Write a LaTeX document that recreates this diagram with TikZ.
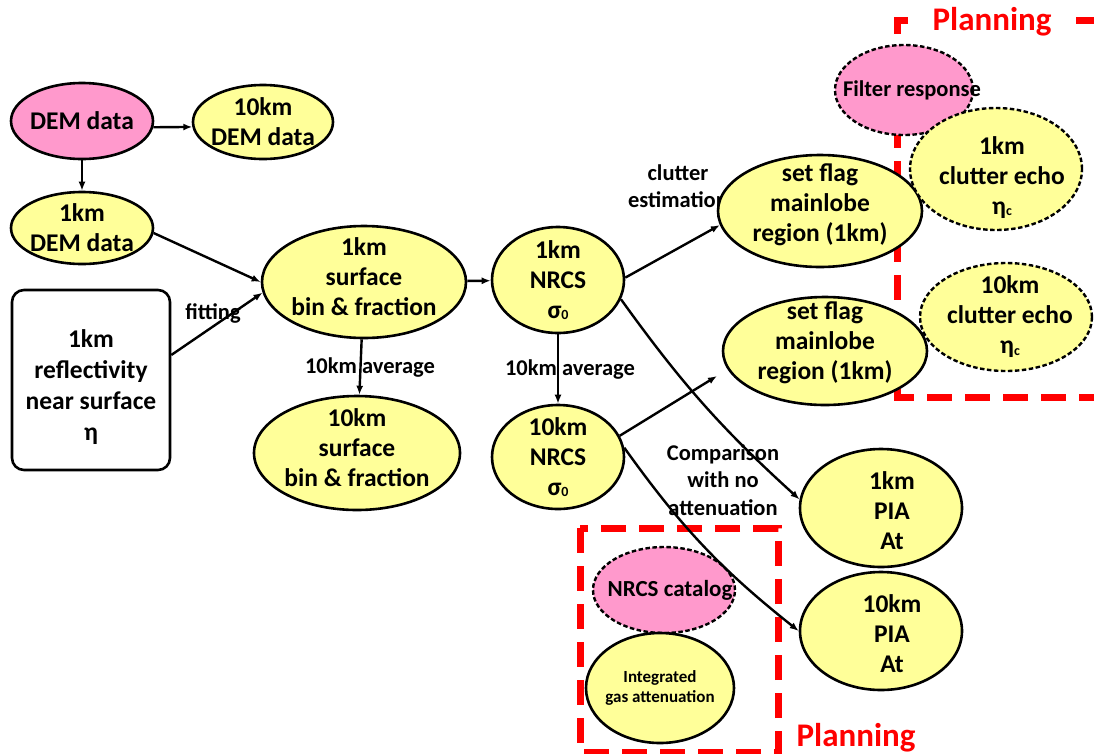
\documentclass[tikz,border=0pt]{standalone}
\usepackage{fontspec}
\setmainfont{Carlito}
\usetikzlibrary{shapes.geometric,arrows.meta}

\definecolor{nodeyellow}{HTML}{FFFF99}
\definecolor{nodepink}{HTML}{FF99CC}
\definecolor{planred}{HTML}{FF0000}

% small index placed low beside a Greek letter
\newcommand\lowidx[1]{\raisebox{-1.5pt}{\fontsize{14}{14}\selectfont #1}}
% invisible struts that move a text block up (extra depth) or down (extra height)
\newcommand\liftby[1]{\rule[-#1]{0pt}{#1}}
\newcommand\dropby[1]{\rule{0pt}{#1}}

\begin{document}
\begin{tikzpicture}[x=1pt,y=-1pt,
  font=\bfseries\fontsize{25.5}{30}\selectfont,
  oval/.style={ellipse, draw, line width=2.6pt, inner sep=-45pt, align=center},
  yellowoval/.style={oval, fill=nodeyellow},
  pinkoval/.style={oval, fill=nodepink},
  plannedoval/.style={dash pattern=on 4.5pt off 2.5pt, line width=2.4pt},
  infobox/.style={draw, rounded corners=12pt, line width=2.6pt, fill=white, align=center, inner sep=0pt},
  steplabel/.style={font=\bfseries\fontsize{22.5}{27.5}\selectfont, align=center, inner sep=0pt},
  planbox/.style={draw=planred, line width=7pt, dash pattern=on 25pt off 13pt},
  plantitle/.style={text=planred, font=\bfseries\fontsize{33}{36}\selectfont, inner sep=0pt},
  arr/.style={-{Latex[length=9pt,width=7pt]}, line width=2.4pt}
]
\useasboundingbox (0,0) rectangle (1094,753);

% planning regions
\draw[planbox] (908,20) -- (897,20) -- (897,397) -- (1100,397);
\draw[planbox] (1076,20) -- (1100,20);
\node[plantitle] (plantop) at (992,22) {Planning};
\draw[planbox] (580,528) rectangle (778,752);
\node[plantitle] (planbottom) at (856,738) {Planning};

% connector labels
\node[steplabel] (lbfit) at (213,313) {fitting};
\node[steplabel] (lbavg1) at (370,368) {10km average};
\node[steplabel] (lbavg2) at (570,370) {10km average};
\node[steplabel] (lbclutter) at (678,186) {clutter\\estimation};
\node[steplabel] (lbcomp) at (723,480) {Comparison\\with no\\attenuation};

% DEM inputs
\node[pinkoval, minimum width=142pt, minimum height=76pt] (dem) at (82,121) {DEM data};
\node[yellowoval, minimum width=140pt, minimum height=74pt] (dem10) at (263,122) {10km\\DEM data};
\node[yellowoval, minimum width=142pt, minimum height=72pt] (dem1) at (82,228) {1km\\DEM data};
\node[infobox, minimum width=158pt, minimum height=180pt, font=\bfseries\fontsize{25.5}{31}\selectfont] (refl) at (91,380)
  {\dropby{31pt}1km\\reflectivity\\near surface\\η};

% surface bins
\node[yellowoval, minimum width=204pt, minimum height=112pt] (surf1) at (364,282)
  {1km\\surface\\bin \& fraction\liftby{10pt}};
\node[yellowoval, minimum width=206pt, minimum height=114pt] (surf10) at (357,453)
  {10km\\surface\\bin \& fraction\liftby{10pt}};

% NRCS
\node[yellowoval, minimum width=132pt, minimum height=106pt] (nrcs1) at (558,280)
  {1km\\NRCS\\σ\lowidx{0}};
\node[yellowoval, minimum width=132pt, minimum height=104pt] (nrcs10) at (558,457)
  {10km\\NRCS\\σ\lowidx{0}};

% mainlobe flags
\node[yellowoval, minimum width=204pt, minimum height=112pt] (flag1) at (820,211)
  {set flag\\mainlobe\\region (1km)\liftby{16pt}};
\node[yellowoval, minimum width=204pt, minimum height=108pt] (flag2) at (825,351)
  {set flag\\mainlobe\\region (1km)\liftby{20pt}};

% clutter echo (planned)
\node[pinkoval, plannedoval, minimum width=138pt, minimum height=90pt,
  font=\bfseries\fontsize{22.5}{27}\selectfont] (filter) at (904,90)
  {\hspace*{16pt}Filter response};
\node[yellowoval, plannedoval, minimum width=172pt, minimum height=122pt] (clut1) at (996,169)
  {\hspace*{12pt}\dropby{34pt}1km\\\hspace*{12pt}clutter echo\\\hspace*{12pt}η\lowidx{c}};
\node[yellowoval, plannedoval, minimum width=172pt, minimum height=108pt] (clut10) at (1006,317)
  {\hspace*{8pt}10km\\\hspace*{8pt}clutter echo\\\hspace*{8pt}η\lowidx{c}};

% path integrated attenuation
\node[yellowoval, minimum width=162pt, minimum height=118pt] (pia1) at (881,508)
  {\hspace*{22pt}\dropby{24pt}1km\\\hspace*{22pt}PIA\\\hspace*{22pt}At};
\node[yellowoval, minimum width=162pt, minimum height=118pt] (pia10) at (881,631)
  {\hspace*{22pt}\dropby{24pt}10km\\\hspace*{22pt}PIA\\\hspace*{22pt}At};

% planned catalog and gas attenuation
\node[pinkoval, plannedoval, minimum width=142pt, minimum height=86pt,
  font=\bfseries\fontsize{23}{27}\selectfont] (catalog) at (664,590)
  {\hspace*{12pt}NRCS catalog};
\node[yellowoval, minimum width=148pt, minimum height=110pt,
  font=\bfseries\fontsize{17}{20}\selectfont] (gas) at (660,688)
  {Integrated\\gas attenuation};

% free end of the 10km clutter arrow
\coordinate (flag2tip) at (717,376);

% connectors
\draw[arr] (dem.-5) -- (dem10.184);
\draw[arr] (dem) -- (dem1);
\draw[arr] (dem1.-4) -- (surf1.180);
\draw[arr] ([yshift=25pt]refl.east) -- (surf1.186);
\draw[arr] (surf1) -- (nrcs1);
\draw[arr] (surf1) -- (surf10);
\draw[arr] (nrcs1) -- (nrcs10);
\draw[arr] (nrcs1.2) -- (flag1.188);
\draw[arr] (nrcs10.19) -- (flag2tip);
\draw[arr] (nrcs1.-17) to[bend right=6] (pia1.174);
\draw[arr] (nrcs10.8) to[bend right=8] (pia10.180);
\end{tikzpicture}
\end{document}
